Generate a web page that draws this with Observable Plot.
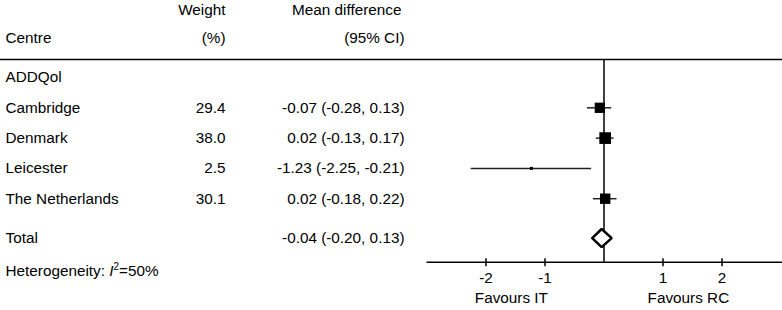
<!DOCTYPE html>
<html>
<head>
<meta charset="utf-8">
<script src="https://cdn.jsdelivr.net/npm/d3@7"></script>
<script src="https://cdn.jsdelivr.net/npm/@observablehq/plot@0.6"></script>
<style>
  html, body { margin: 0; padding: 0; background: #fff; }
  #chart svg { display: block; }
</style>
</head>
<body>
<div id="chart"></div>
<script>
// ---- Data ----
const groupLabel = "ADDQol";
const centres = ["Cambridge", "Denmark", "Leicester", "The Netherlands"];
const weights = [29.4, 38.0, 2.5, 30.1];
const meanDiff = [-0.07, 0.02, -1.23, 0.02];
const ciLow = [-0.28, -0.13, -2.25, -0.18];
const ciHigh = [0.13, 0.17, -0.21, 0.22];
const totalLabel = "Total";
const totalMD = [-0.04];
const totalLow = [-0.20];
const totalHigh = [0.13];
const heterogeneityI2 = 50;
const xTicks = [-2, -1, 1, 2];
const favourLabels = ["Favours IT", "Favours RC"];
const headerLine1 = ["", "Weight", "Mean difference"];
const headerLine2 = ["Centre", "(%)", "(95% CI)"];

// ---- Build table ----
const fmt = v => v.toFixed(2);
const rows = centres.map((c, i) => ({
  centre: c, weight: weights[i], md: meanDiff[i], lo: ciLow[i], hi: ciHigh[i], row: i + 1
}));
const total = {md: totalMD[0], lo: totalLow[0], hi: totalHigh[0]};

// ---- Layout (row units; 1 row = 30.3 px) ----
const PX = 1 / 30.3;
const Y_H1 = -2.23, Y_H2 = -1.29, Y_TOP = -0.59, Y_TOTAL = 5.3, Y_HET = 6.39, Y_AXIS = 6.1, Y_TICKLAB = 6.63, Y_FAV = 7.29;
const COL_CENTRE = 5, COL_WEIGHT = 225, COL_MD = 404;
const FAV_X = [-1.57, 1.43];
const DH = 0.3; // diamond half height in row units
const font = "'Liberation Sans', Arial, Helvetica, sans-serif";
const fs = 15.3;

const diamond = [
  {x: total.lo, y: Y_TOTAL},
  {x: total.md, y: Y_TOTAL - DH},
  {x: total.hi, y: Y_TOTAL},
  {x: total.md, y: Y_TOTAL + DH},
  {x: total.lo, y: Y_TOTAL}
];

const hetText = "Heterogeneity: I2=" + heterogeneityI2 + "%";

const textOpts = (extra) => Object.assign({frameAnchor: "left", fontSize: fs, fill: "#000"}, extra);

const plot = Plot.plot({
  width: 782,
  height: 310,
  marginLeft: 0, marginRight: 0, marginTop: 0, marginBottom: 0,
  style: {fontFamily: font, fontSize: fs + "px", background: "#fff", color: "#000"},
  x: {domain: [-3, 3], range: [426.5, 780.5], axis: null},
  y: {domain: [0, 4], range: [77, 198.2], axis: null},
  r: {type: "sqrt", domain: [0, 38], range: [0, 6.6]},
  marks: [
    // separator line and zero line
    Plot.ruleY([Y_TOP], {stroke: "#000", strokeWidth: 1.5}),
    Plot.ruleX([0], {y1: Y_TOP, y2: Y_AXIS, stroke: "#000", strokeWidth: 1.5}),
    // axis
    Plot.ruleY([Y_AXIS], {x1: -3, x2: 3.05, stroke: "#000", strokeWidth: 1.5}),
    Plot.ruleX(xTicks, {x: d => d, y1: Y_AXIS - 3.5 * PX, y2: Y_AXIS + 4.5 * PX, stroke: "#000", strokeWidth: 1.5}),
    Plot.text(xTicks, {x: d => d, y: () => Y_TICKLAB, text: d => String(d), fontSize: fs, fill: "#000"}),
    Plot.text(favourLabels, {x: (d, i) => FAV_X[i], y: () => Y_FAV, text: d => d, fontSize: fs, fill: "#000"}),
    // CI whiskers
    Plot.ruleY(rows, {y: "row", x1: "lo", x2: "hi", stroke: "#222", strokeWidth: 1.5}),
    // squares
    Plot.dot(rows, {x: "md", y: "row", r: "weight", symbol: "square", fill: "#000", stroke: "none"}),
    // diamond
    Plot.line(diamond, {x: "x", y: "y", stroke: "#000", strokeWidth: 2.5, fill: "#fff", strokeLinejoin: "miter"}),
    // left text columns
    Plot.text([groupLabel], textOpts({y: () => 0, text: d => d, textAnchor: "start", dx: COL_CENTRE})),
    Plot.text(rows, textOpts({y: "row", text: "centre", textAnchor: "start", dx: COL_CENTRE})),
    Plot.text(rows, textOpts({y: "row", text: d => d.weight.toFixed(1), textAnchor: "end", dx: COL_WEIGHT})),
    Plot.text(rows, textOpts({y: "row", text: d => `${fmt(d.md)} (${fmt(d.lo)}, ${fmt(d.hi)})`, textAnchor: "end", dx: COL_MD})),
    Plot.text([totalLabel], textOpts({y: () => Y_TOTAL, text: d => d, textAnchor: "start", dx: COL_CENTRE})),
    Plot.text([total], textOpts({y: () => Y_TOTAL, text: d => `${fmt(d.md)} (${fmt(d.lo)}, ${fmt(d.hi)})`, textAnchor: "end", dx: COL_MD})),
    Plot.text([hetText], textOpts({y: () => Y_HET, text: d => d, textAnchor: "start", dx: COL_CENTRE})),
    // header texts
    Plot.text([headerLine1[1]], textOpts({y: () => Y_H1, text: d => d, textAnchor: "end", dx: COL_WEIGHT})),
    Plot.text([headerLine1[2]], textOpts({y: () => Y_H1, text: d => d, textAnchor: "end", dx: COL_MD - 3})),
    Plot.text([headerLine2[0]], textOpts({y: () => Y_H2, text: d => d, textAnchor: "start", dx: COL_CENTRE})),
    Plot.text([headerLine2[1]], textOpts({y: () => Y_H2, text: d => d, textAnchor: "end", dx: COL_WEIGHT})),
    Plot.text([headerLine2[2]], textOpts({y: () => Y_H2, text: d => d, textAnchor: "end", dx: COL_MD}))
  ]
});

document.getElementById("chart").appendChild(plot);

// Italic I and superscript 2 for heterogeneity label
d3.select(plot).selectAll("text").filter(function() { return this.textContent === hetText; }).each(function() {
  const t = d3.select(this);
  t.text(null);
  t.append("tspan").text("Heterogeneity: ");
  t.append("tspan").attr("font-style", "italic").text("I");
  t.append("tspan").attr("font-size", 10).attr("dy", -6).text("2");
  t.append("tspan").attr("dy", 6).text("=" + heterogeneityI2 + "%");
});
</script>
</body>
</html>
